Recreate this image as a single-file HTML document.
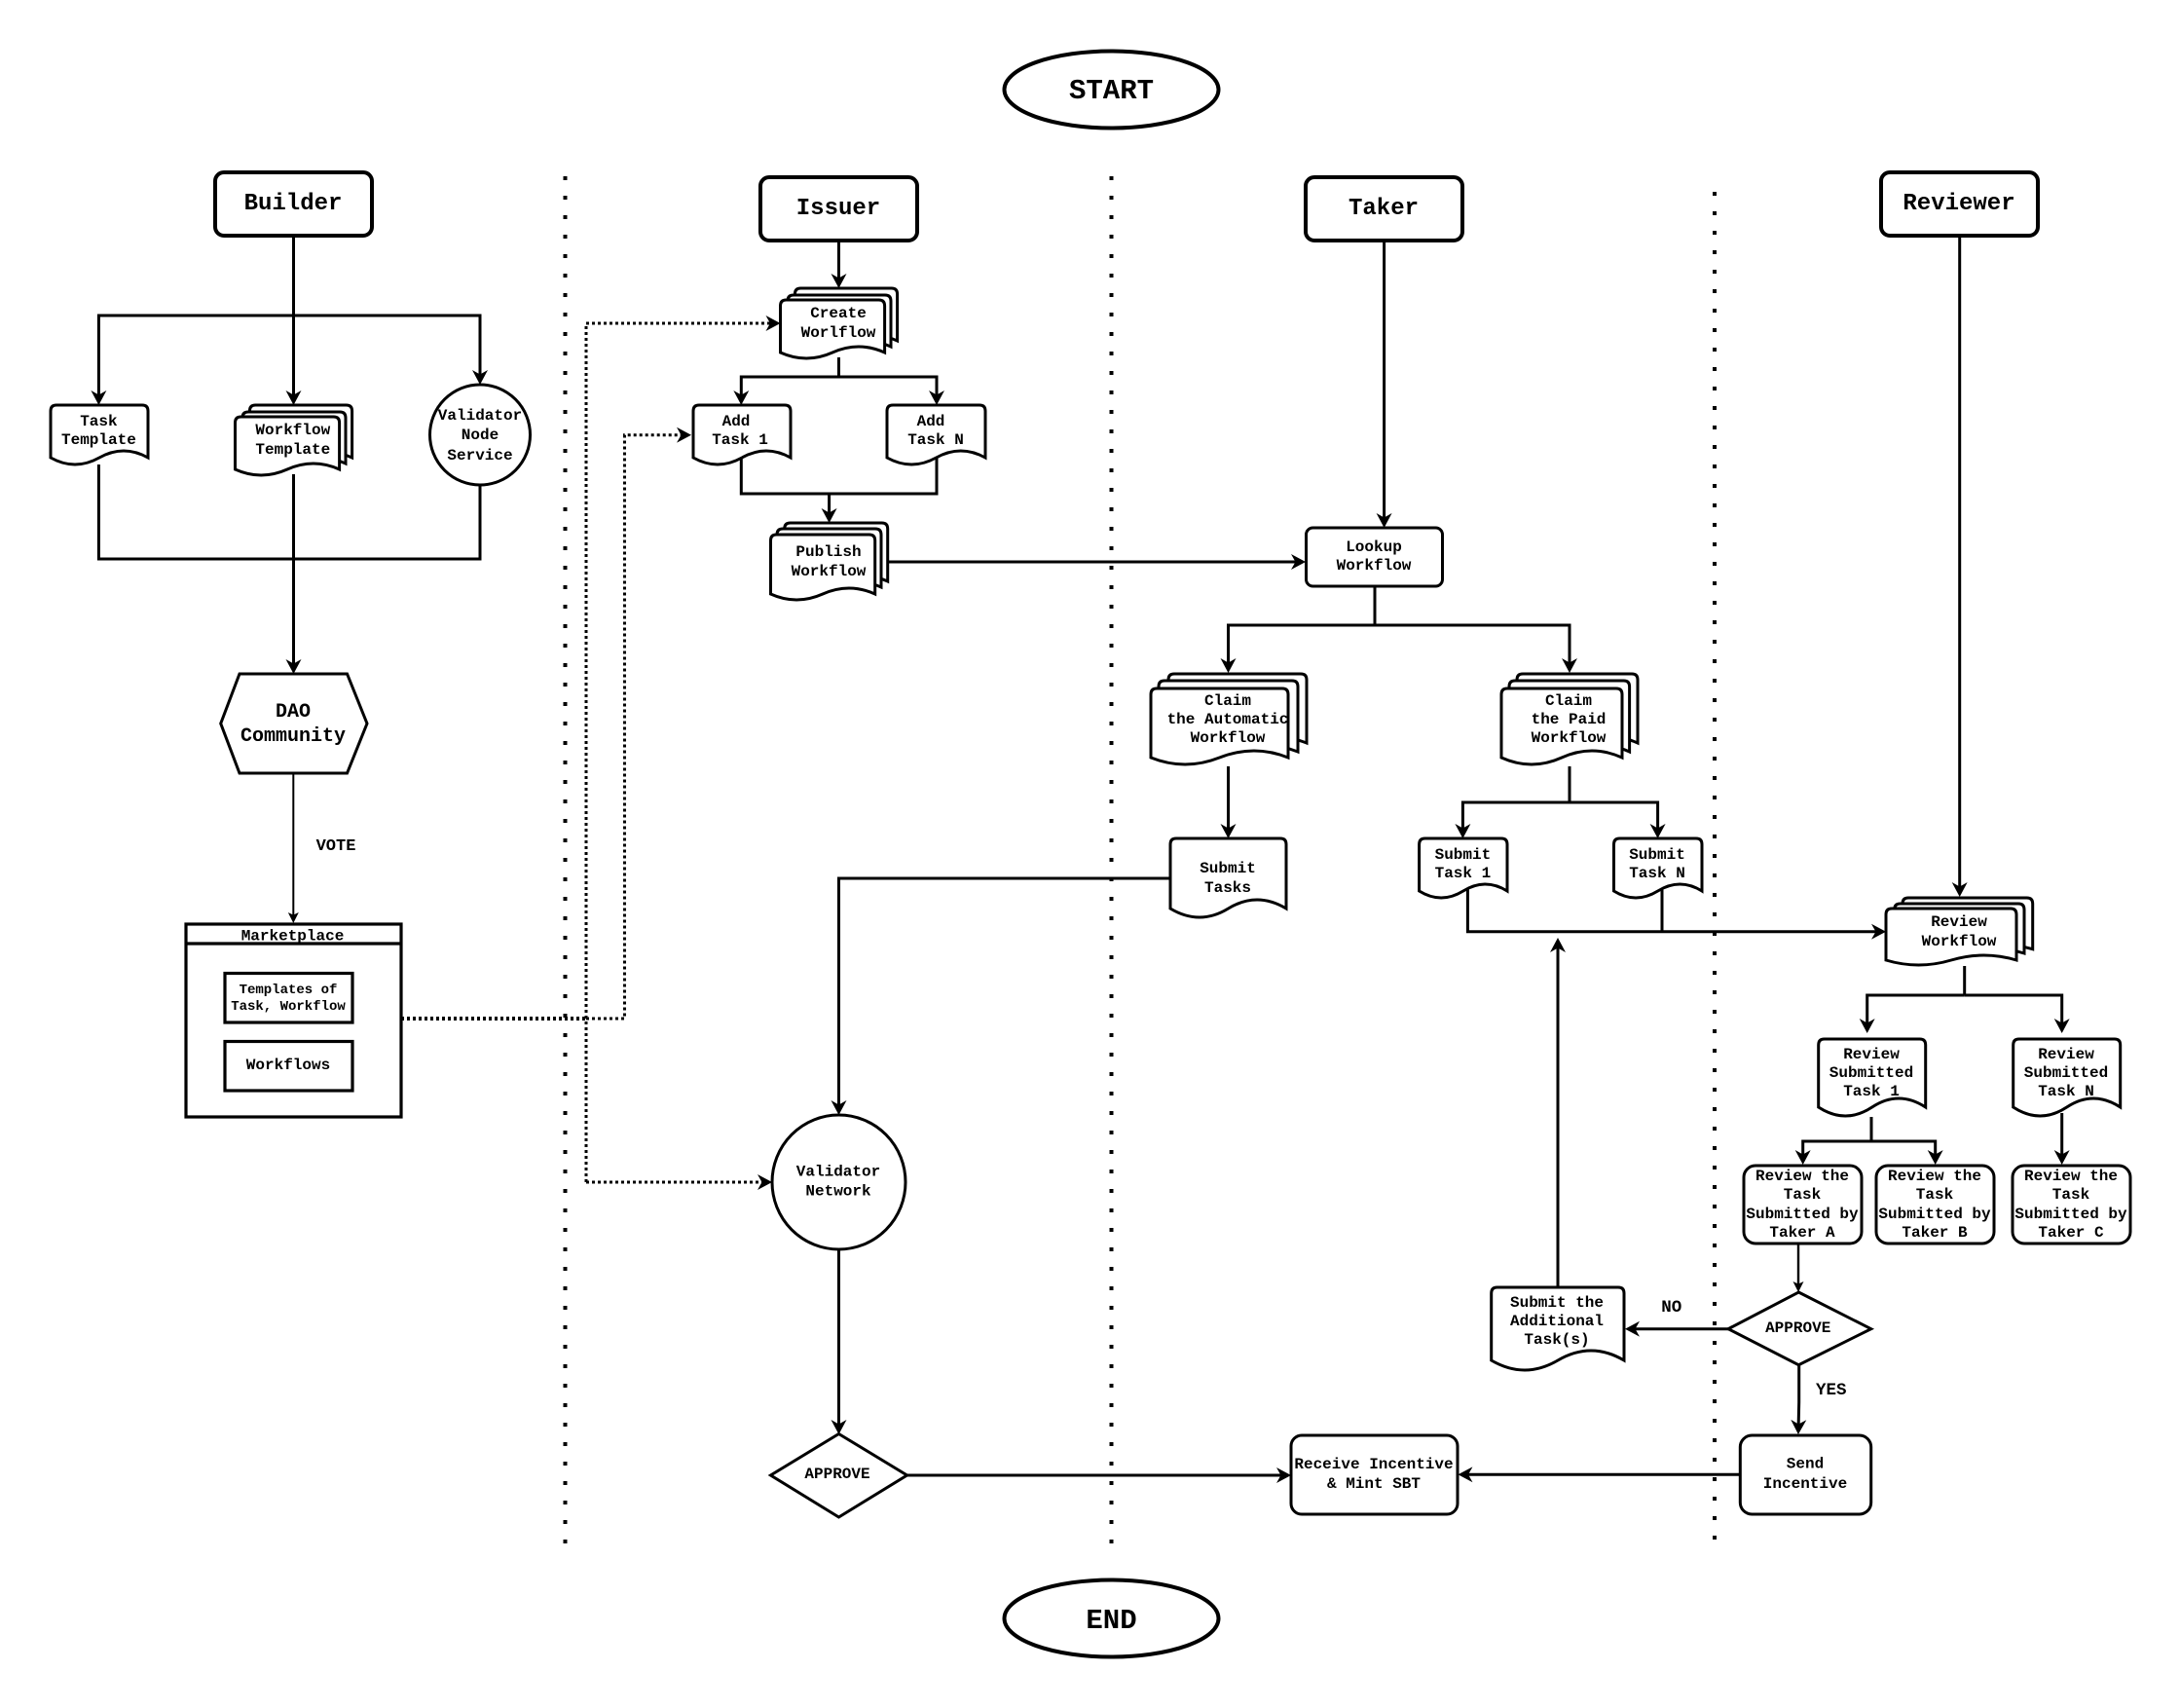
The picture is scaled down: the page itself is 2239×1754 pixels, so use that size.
<!DOCTYPE html>
<html><head><meta charset="utf-8"><style>
html,body{margin:0;padding:0;background:#fff}
svg{display:block}
text{font-family:"Liberation Mono",monospace;font-weight:bold;text-anchor:middle;fill:#000;font-size:16px}
.s{fill:#fff;stroke:#000;stroke-width:3}
.l{fill:none;stroke:#000;stroke-width:3}
.h{fill:#fff;stroke:#000;stroke-width:4}
.m{fill:#fff;stroke:#000;stroke-width:3.2}
.a{marker-end:url(#a)}
.b{marker-end:url(#b)}
.c{marker-end:url(#c)}
.d{fill:none;stroke:#000;stroke-width:3;stroke-dasharray:3 3}
</style></head><body>
<svg xmlns="http://www.w3.org/2000/svg" width="2239" height="1754" viewBox="0 0 2239 1754">
<defs>
<marker id="a" viewBox="0 0 15 16" refX="12" refY="8" markerWidth="15" markerHeight="16" markerUnits="userSpaceOnUse" orient="auto"><path d="M0 0L15 8L0 16L4.5 8Z"/></marker>
<marker id="b" viewBox="0 0 11 11" refX="8" refY="5.5" markerWidth="11" markerHeight="11" markerUnits="userSpaceOnUse" orient="auto"><path d="M0 0L11 5.5L0 11L2.5 5.5Z"/></marker>
<marker id="c" viewBox="0 0 15 16" refX="11" refY="8" markerWidth="15" markerHeight="16" markerUnits="userSpaceOnUse" orient="auto"><path d="M0 0L15 8L0 16L4.5 8Z"/></marker>
</defs>
<rect width="2239" height="1754" fill="#fff"/>

<!-- dividers -->
<path d="M580.5 181V1586" fill="none" stroke="#000" stroke-width="4" stroke-dasharray="4 16"/>
<path d="M1141.5 181V1586" fill="none" stroke="#000" stroke-width="4" stroke-dasharray="4 16"/>
<path d="M1761 197V1582" fill="none" stroke="#000" stroke-width="4" stroke-dasharray="4 16"/>

<!-- start / end -->
<ellipse class="h" cx="1141.5" cy="92" rx="110" ry="39.5"/>
<ellipse class="h" cx="1141.5" cy="1662" rx="110" ry="39.5"/>

<!-- dotted -->
<path d="M412 1046H602" fill="none" stroke="#000" stroke-width="4" stroke-dasharray="3 3"/>
<path class="d c" d="M602 1046H641.5V446.7H706"/>
<path class="d c" d="M602 1214V332H797.5"/>
<path class="d c" d="M602 1214H789"/>

<!-- connectors -->
<path class="l a" d="M301.5 242V413"/>
<path class="l a" d="M301.5 324H101.4V413"/>
<path class="l a" d="M301.5 324H493V392"/>
<path class="l" d="M101.4 477V574H493V498"/>
<path class="l a" d="M301.5 487V689"/>
<path class="l b" style="stroke-width:2" d="M301.3 794V945"/>
<path class="l a" d="M861.5 248V293"/>
<path class="l" d="M861.5 367V387"/>
<path class="l a" d="M861.5 387H761.3V413"/>
<path class="l a" d="M861.5 387H962V413"/>
<path class="l" d="M761.3 470V507H962V470"/>
<path class="l a" d="M851.6 507V534"/>
<path class="l a" d="M911.7 577H1338"/>
<path class="l a" d="M1421.6 248V539"/>
<path class="l" d="M1412 602V642"/>
<path class="l a" d="M1412 642H1261.5V688"/>
<path class="l a" d="M1412 642H1612V688"/>
<path class="l a" d="M1261.5 787V858"/>
<path class="l" d="M1612 787V824"/>
<path class="l a" d="M1612 824H1502.4V858"/>
<path class="l a" d="M1612 824H1702.6V858"/>
<path class="l a" d="M1202 902H861.5V1142"/>
<path class="l a" d="M861.5 1283V1470"/>
<path class="l a" d="M931.6 1515H1323"/>
<path class="l a" d="M1507.4 909V956.7H1934"/>
<path class="l" d="M1707 909V956.7"/>
<path class="l a" d="M1600 1321.7V966"/>
<path class="l a" d="M2012.7 242V918"/>
<path class="l" d="M2017.7 992V1022"/>
<path class="l a" d="M2017.7 1022H1917.7V1058"/>
<path class="l a" d="M2017.7 1022H2117.7V1058"/>
<path class="l" d="M1922 1147V1172"/>
<path class="l a" d="M1922 1172H1851.7V1193"/>
<path class="l a" d="M1922 1172H1987.7V1193"/>
<path class="l a" d="M2117.7 1143V1193"/>
<path class="l b" style="stroke-width:2.4" d="M1847 1277V1324"/>
<path class="l a" d="M1775 1364.7H1672"/>
<path class="l a" d="M1847.7 1401.7V1440L1847 1470"/>
<path class="l a" d="M1787 1514.3H1500.5"/>

<!-- header boxes -->
<rect class="h" x="221" y="177" width="161" height="65" rx="9"/>
<rect class="h" x="781" y="182" width="161" height="65" rx="9"/>
<rect class="h" x="1341" y="182" width="161" height="65" rx="9"/>
<rect class="h" x="1932" y="177" width="161" height="65" rx="9"/>

<!-- single documents -->
<path class="s" d="M52 422Q52 416 58 416H146Q152 416 152 422V470Q127 456 102 470T52 470Z"/>
<path class="s" d="M712 422Q712 416 718 416H806Q812 416 812 422V470Q787 456 762 470T712 470Z"/>
<path class="s" d="M911 422Q911 416 917 416H1006Q1012 416 1012 422V470Q986.7 456 961.5 470T911 470Z"/>
<path class="s" d="M1202 867Q1202 861 1208 861H1315Q1321 861 1321 867V933Q1291 915 1261.5 933T1202 933Z"/>
<path class="s" d="M1457.6 867Q1457.6 861 1463.6 861H1542Q1548 861 1548 867V915Q1525.4 901 1502.8 915T1457.6 915Z"/>
<path class="s" d="M1657.5 867Q1657.5 861 1663.5 861H1742Q1748 861 1748 867V915Q1725.4 901 1702.7 915T1657.5 915Z"/>
<path class="s" d="M1867.7 1073Q1867.7 1067 1873.7 1067H1971.7Q1977.7 1067 1977.7 1073V1137Q1950 1119 1922.7 1137T1867.7 1137Z"/>
<path class="s" d="M2067.7 1073Q2067.7 1067 2073.7 1067H2171.7Q2177.7 1067 2177.7 1073V1137Q2150 1119 2122.7 1137T2067.7 1137Z"/>
<path class="s" d="M1531.7 1328Q1531.7 1322 1537.7 1322H1662Q1668 1322 1668 1328V1397Q1634 1377 1600 1397T1531.7 1397Z"/>

<!-- multi documents -->
<g>
<path class="s" d="M256.4 422Q256.4 416 262.4 416H355.6Q361.6 416 361.6 422V470Q335.3 458 309 470T256.4 470Z"/>
<path class="s" d="M249 429Q249 423 255 423H349Q355 423 355 429V476Q328.5 464 302 476T249 476Z"/>
<path class="s" d="M241.5 434Q241.5 428 247.5 428H342.6Q348.6 428 348.6 434V482Q321.8 470 295 482T241.5 482Z"/>
</g>
<g transform="translate(560,-120)">
<path class="s" d="M256.4 422Q256.4 416 262.4 416H355.6Q361.6 416 361.6 422V470Q335.3 458 309 470T256.4 470Z"/>
<path class="s" d="M249 429Q249 423 255 423H349Q355 423 355 429V476Q328.5 464 302 476T249 476Z"/>
<path class="s" d="M241.5 434Q241.5 428 247.5 428H342.6Q348.6 428 348.6 434V482Q321.8 470 295 482T241.5 482Z"/>
</g>
<path class="s" d="M805.7 543Q805.7 537 811.7 537H905.7Q911.7 537 911.7 543V597Q885 585 858.7 597T805.7 597Z"/>
<path class="s" d="M798 549Q798 543 804 543H899Q905 543 905 549V603Q878 591 851.5 603T798 603Z"/>
<path class="s" d="M791.5 555Q791.5 549 797.5 549H892.7Q898.7 549 898.7 555V610Q872 598 845 610T791.5 610Z"/>

<path class="s" d="M1200 698Q1200 692 1206 692H1336Q1342 692 1342 698V763Q1306.5 749 1271 763T1200 763Z"/>
<path class="s" d="M1190 705Q1190 699 1196 699H1327Q1333 699 1333 705V772Q1297 758 1261.5 772T1190 772Z"/>
<path class="s" d="M1182 713Q1182 707 1188 707H1317Q1323 707 1323 713V778Q1288 764 1252.5 778T1182 778Z"/>

<path class="s" d="M1558 698Q1558 692 1564 692H1676Q1682 692 1682 698V763Q1651 749 1620 763T1558 763Z"/>
<path class="s" d="M1550 705Q1550 699 1556 699H1667.6Q1673.6 699 1673.6 705V772Q1642.7 758 1611.8 772T1550 772Z"/>
<path class="s" d="M1542 713Q1542 707 1548 707H1660Q1666 707 1666 713V778Q1635 764 1604 778T1542 778Z"/>

<path class="s" d="M1954 928Q1954 922 1960 922H2081.7Q2087.7 922 2087.7 928V974.7Q2054 964.7 2020.8 974.7T1954 974.7Z"/>
<path class="s" d="M1945.7 934Q1945.7 928 1951.7 928H2073Q2079 928 2079 934V979Q2045.7 969 2012.3 979T1945.7 979Z"/>
<path class="s" d="M1937 939Q1937 933 1943 933H2065Q2071 933 2071 939V986Q2037.5 976 2004 986T1937 986Z"/>

<!-- circles, polygons -->
<circle class="s" cx="493" cy="446.5" r="51.5"/>
<ellipse class="s" cx="861.5" cy="1214" rx="68.5" ry="69"/>
<polygon class="s" points="246,692 356.5,692 377,743 356.5,794 246,794 226.7,743"/>
<polygon class="s" points="861.5,1472.5 931.6,1515 861.5,1558 791.5,1515"/>
<polygon class="s" points="1847.3,1327 1921.7,1364.7 1847.3,1401.7 1775,1364.7"/>

<!-- marketplace -->
<rect class="m" x="191" y="949" width="221" height="198"/>
<path class="l" style="stroke-width:3.2" d="M191 969H412"/>
<rect class="m" x="231" y="999.5" width="131" height="50.5"/>
<rect class="m" x="231" y="1069.5" width="131" height="50.5"/>

<!-- rounded boxes -->
<rect class="s" x="1341.5" y="542" width="140" height="60" rx="7"/>
<rect class="s" x="1326" y="1474" width="171" height="81" rx="11"/>
<rect class="s" x="1787.3" y="1474" width="134.4" height="81" rx="12"/>
<rect class="s" x="1791" y="1197" width="121" height="80" rx="12"/>
<rect class="s" x="1927" y="1197" width="121" height="80" rx="12"/>
<rect class="s" x="2067" y="1197" width="121" height="80" rx="12"/>

<!-- text -->
<text x="1141.5" y="101" style="font-size:29px">START</text>
<text x="1141.5" y="1672" style="font-size:29px">END</text>
<text x="301" y="215" style="font-size:24px">Builder</text>
<text x="861" y="220" style="font-size:24px">Issuer</text>
<text x="1421" y="220" style="font-size:24px">Taker</text>
<text x="2012" y="215" style="font-size:24px">Reviewer</text>

<text x="101.4" y="437">Task</text><text x="101.4" y="456">Template</text>
<text x="300.8" y="446">Workflow</text><text x="300.8" y="466">Template</text>
<text x="493" y="431">Validator</text><text x="493" y="451">Node</text><text x="493" y="472">Service</text>
<text x="301" y="736" style="font-size:20px">DAO</text><text x="301" y="761" style="font-size:20px">Community</text>
<text x="345" y="873" style="font-size:17px">VOTE</text>
<text x="300.5" y="965.5">Marketplace</text>
<text x="296" y="1020" style="font-size:14px">Templates of</text><text x="296" y="1037" style="font-size:14px">Task, Workflow</text>
<text x="296" y="1098">Workflows</text>

<text x="861" y="326">Create</text><text x="861" y="346">Worlflow</text>
<text x="756" y="437">Add</text><text x="760" y="456">Task 1</text>
<text x="956" y="437">Add</text><text x="961" y="456">Task N</text>
<text x="851" y="571">Publish</text><text x="851" y="591">Workflow</text>

<text x="1411" y="566">Lookup</text><text x="1411" y="585">Workflow</text>
<text x="1261" y="724">Claim</text><text x="1261" y="743">the Automatic</text><text x="1261" y="762">Workflow</text>
<text x="1611" y="724">Claim</text><text x="1611" y="743">the Paid</text><text x="1611" y="762">Workflow</text>
<text x="1261" y="896">Submit</text><text x="1261" y="916">Tasks</text>
<text x="1502.4" y="882">Submit</text><text x="1502.4" y="901">Task 1</text>
<text x="1702" y="882">Submit</text><text x="1702" y="901">Task N</text>

<text x="861" y="1207.5">Validator</text><text x="861" y="1227.5">Network</text>
<text x="860" y="1518">APPROVE</text>
<text x="1411" y="1508">Receive Incentive</text><text x="1411" y="1528">&amp; Mint SBT</text>

<text x="2012" y="951">Review</text><text x="2012" y="971">Workflow</text>
<text x="1922" y="1087">Review</text><text x="1922" y="1106">Submitted</text><text x="1922" y="1125">Task 1</text>
<text x="2122" y="1087">Review</text><text x="2122" y="1106">Submitted</text><text x="2122" y="1125">Task N</text>

<text x="1851" y="1212">Review the</text><text x="1851" y="1231">Task</text><text x="1851" y="1251">Submitted by</text><text x="1851" y="1270">Taker A</text>
<text x="1987" y="1212">Review the</text><text x="1987" y="1231">Task</text><text x="1987" y="1251">Submitted by</text><text x="1987" y="1270">Taker B</text>
<text x="2127" y="1212">Review the</text><text x="2127" y="1231">Task</text><text x="2127" y="1251">Submitted by</text><text x="2127" y="1270">Taker C</text>

<text x="1846.7" y="1368">APPROVE</text>
<text x="1716.7" y="1347" style="font-size:17.5px">NO</text>
<text x="1880.7" y="1432" style="font-size:17.5px">YES</text>
<text x="1599" y="1342">Submit the</text><text x="1599" y="1361">Additional</text><text x="1599" y="1380">Task(s)</text>
<text x="1854" y="1507.5">Send</text><text x="1854" y="1528">Incentive</text>
</svg>
</body></html>
